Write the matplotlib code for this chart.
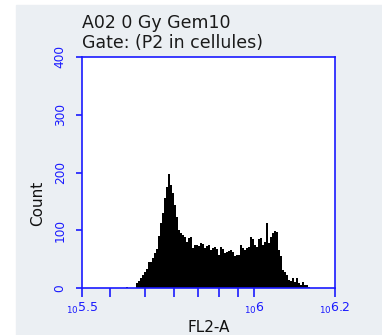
"""
plot.py - FACS-style FL2-A histogram (A02 0 Gy Gem10).
"""
import matplotlib
matplotlib.use("Agg")
import matplotlib.pyplot as plt
from matplotlib.patches import Rectangle
from matplotlib.ticker import FixedLocator, NullFormatter
import numpy as np

plt.rcParams.update({
    "font.family": "DejaVu Sans",
    "mathtext.fontset": "dejavusans",
})

title_lines = ["A02 0 Gy Gem10", "Gate: (P2 in cellules)"]
x_label = "FL2-A"
y_label = "Count"

# axis range (log10 of FL2-A) and histogram bin range
x_log_min, x_log_max = 5.525, 6.223
bin_log_min, bin_log_max = 5.6464, 6.1596

# counts per bin
counts = [
    2, 0, 0, 0, 0, 8, 12, 17, 23, 28,
    33, 45, 45, 52, 60, 68, 90, 112, 130, 155,
    175, 198, 178, 165, 144, 123, 100, 95, 92, 88,
    80, 86, 89, 69, 74, 74, 72, 78, 77, 69,
    72, 74, 66, 70, 71, 68, 57, 71, 68, 60,
    63, 64, 66, 62, 55, 57, 58, 74, 70, 66,
    69, 71, 89, 84, 74, 71, 84, 86, 74, 80,
    112, 78, 89, 95, 98, 97, 65, 55, 31, 28,
    23, 14, 12, 17, 11, 17, 8, 6, 11, 5,
    6, 2, 0,
]

y_ticks = [0, 100, 200, 300, 400]
x_major = [10 ** x_log_min, 1e6, 10 ** x_log_max]
x_major_labels = [r"$_{10}$5.5", r"$_{10}$6", r"$_{10}$6.2"]
x_minor = [4e5, 5e5, 6e5, 7e5, 8e5, 9e5]

BLUE = "#1a1aff"
PANEL = "#ebeff3"

fig = plt.figure(figsize=(3.82, 3.35), dpi=100)
fig.patch.set_facecolor("white")
fig.patches.append(Rectangle((16 / 382, 0), 1, 1 - 5 / 335,
                             transform=fig.transFigure, color=PANEL,
                             zorder=-10))

ax = fig.add_axes([82 / 382, 47 / 335, 253 / 382, 231 / 335])
ax.set_facecolor("white")

edges = np.logspace(bin_log_min, bin_log_max, len(counts) + 1)
ax.stairs(counts, edges, fill=True, color="black", linewidth=0)

ax.set_xscale("log")
ax.set_xlim(10 ** x_log_min, 10 ** x_log_max)
ax.set_ylim(0, 400)

ax.xaxis.set_major_locator(FixedLocator(x_major))
ax.xaxis.set_minor_locator(FixedLocator(x_minor))
ax.xaxis.set_minor_formatter(NullFormatter())
ax.set_xticklabels(x_major_labels)
ax.set_yticks(y_ticks)

for s in ax.spines.values():
    s.set_color(BLUE)
    s.set_linewidth(1.2)

ax.tick_params(axis="x", which="both", direction="out", length=6.5,
               width=1.2, color=BLUE, labelcolor=BLUE, labelsize=9, pad=2.5)
ax.tick_params(axis="y", direction="out", length=4.5, width=1.2,
               color=BLUE, labelcolor=BLUE, labelsize=8.7, pad=6.5)
for lbl in ax.get_yticklabels():
    lbl.set_rotation(90)
    lbl.set_va("center")

ax.set_xlabel(x_label, fontsize=11, color="#111111")
ax.xaxis.set_label_coords(0.502, -0.173)
ax.xaxis.label.set_va("center")
ax.set_ylabel(y_label, fontsize=11, color="#111111")
ax.yaxis.set_label_coords(-0.174, 0.368)
ax.yaxis.label.set_va("center")

fig.text(82 / 382, 1 - 23 / 335, title_lines[0], fontsize=12.5,
         color="#1a1a1a", va="center", ha="left")
fig.text(82 / 382, 1 - 43 / 335, title_lines[1], fontsize=12.5,
         color="#1a1a1a", va="center", ha="left")

fig.savefig("out.png", dpi=100)
